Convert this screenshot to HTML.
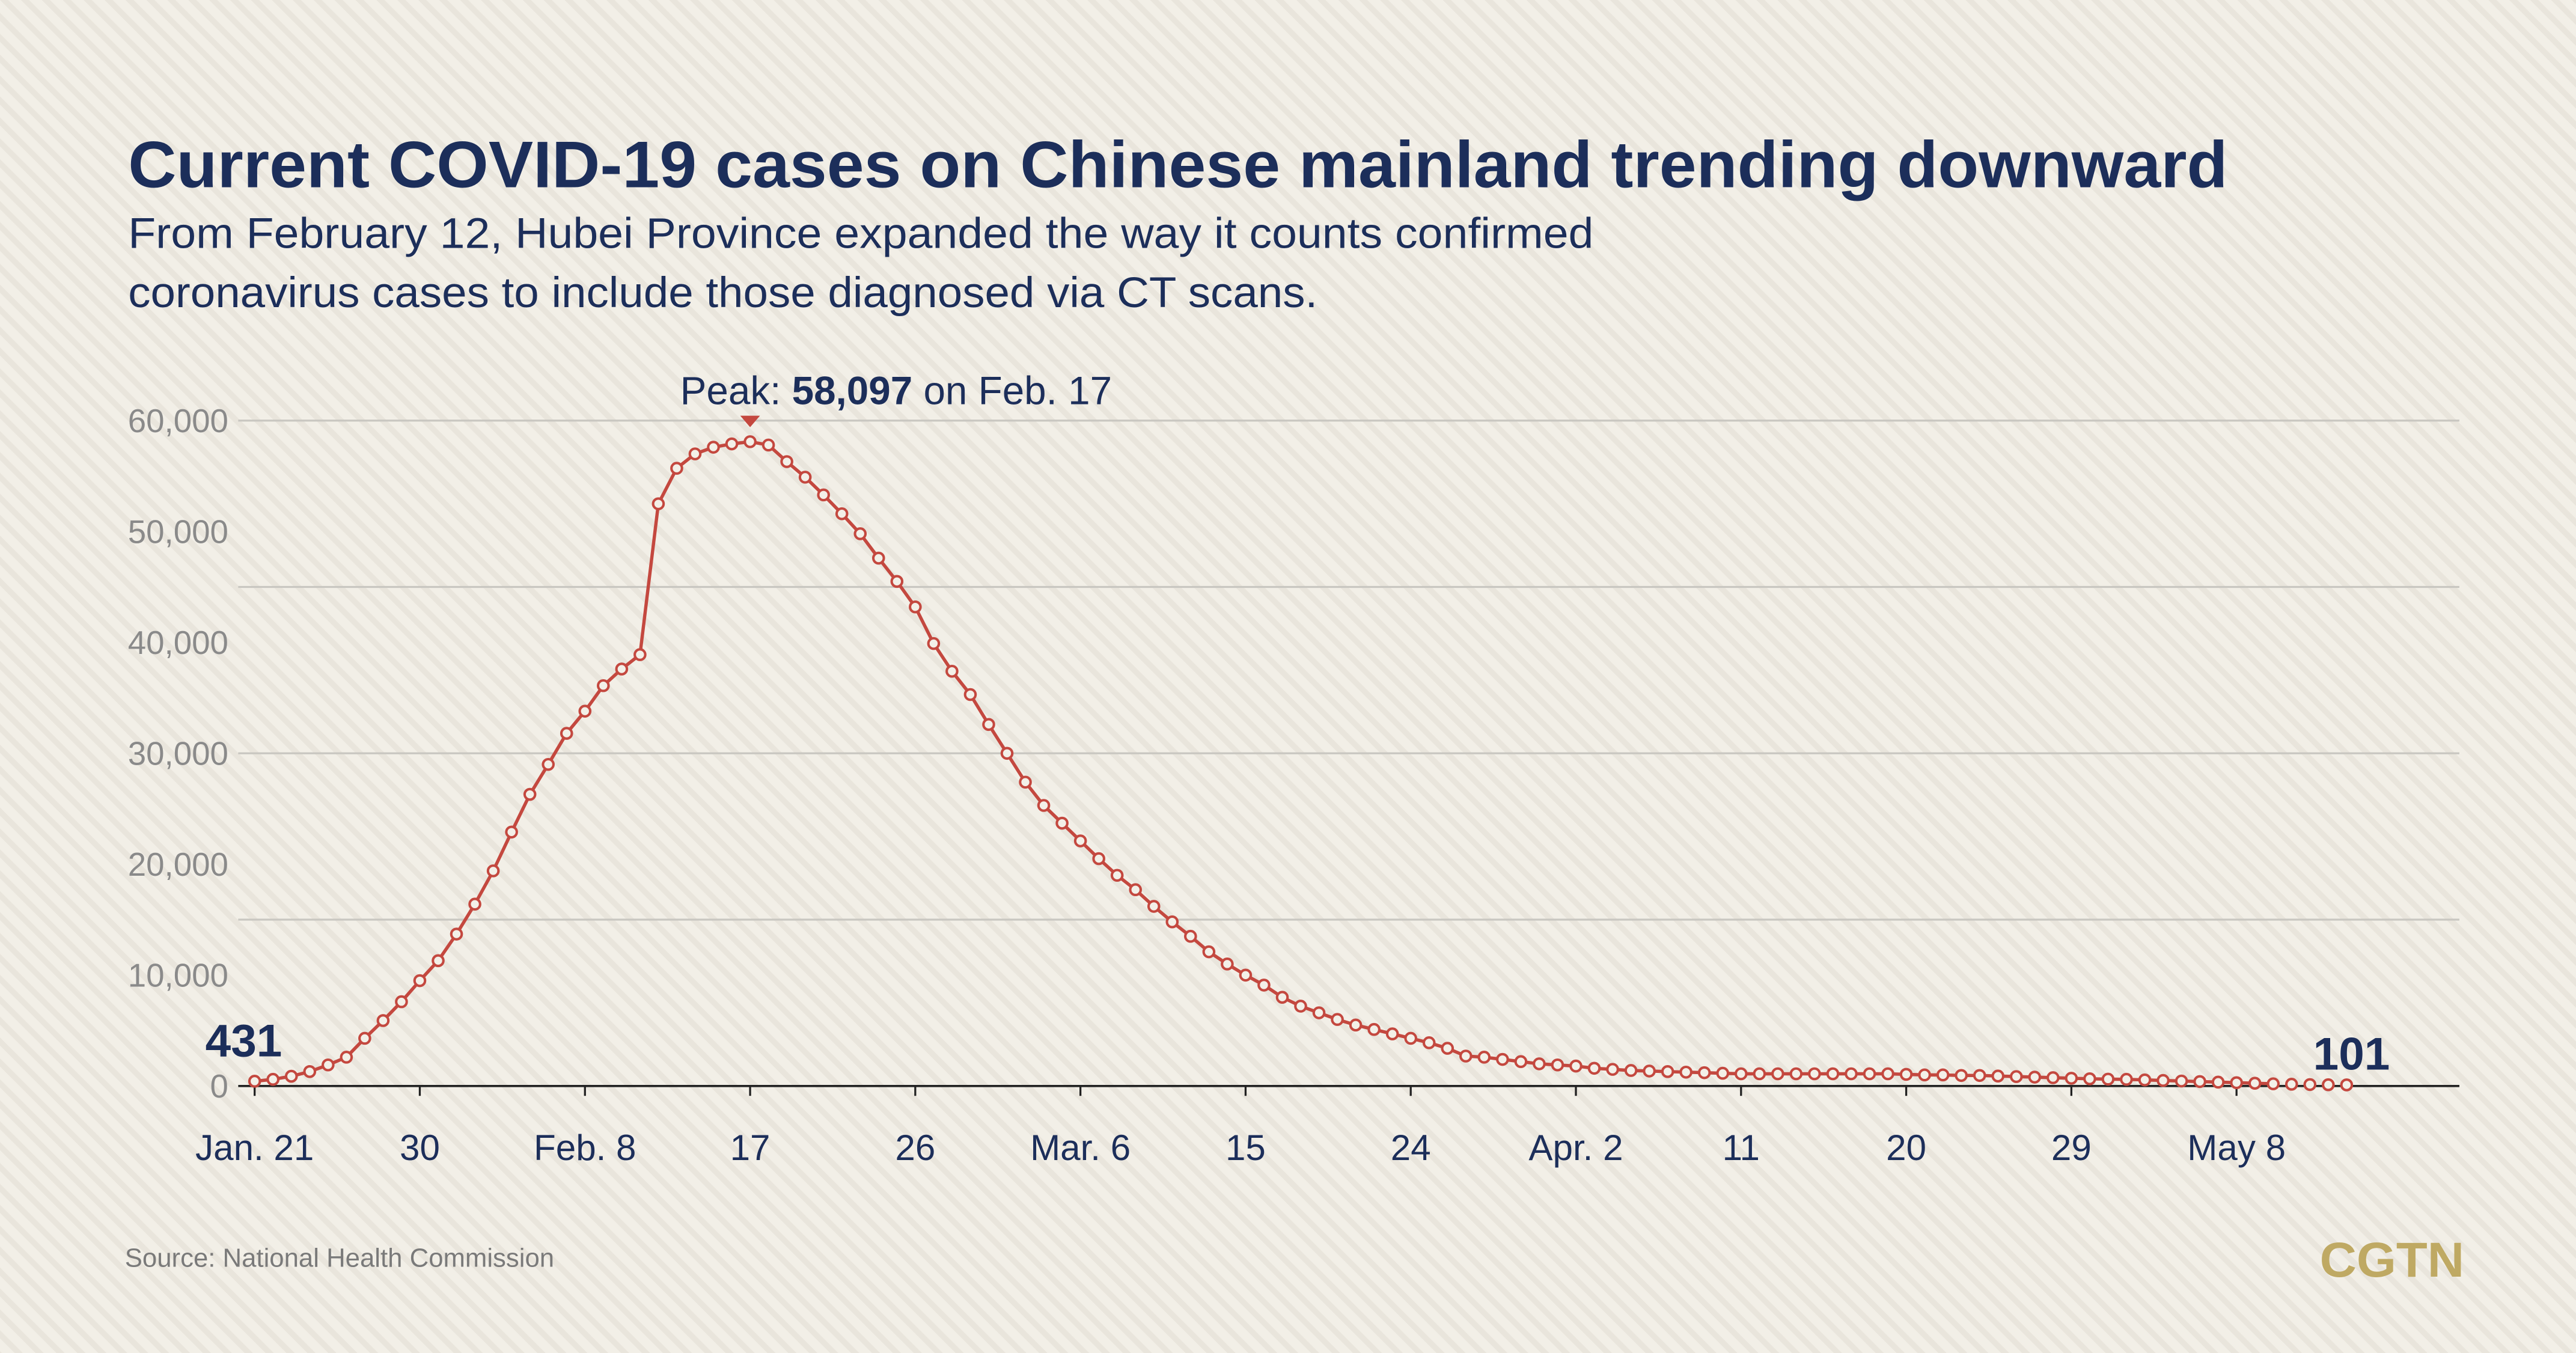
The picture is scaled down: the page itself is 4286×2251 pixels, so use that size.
<!DOCTYPE html>
<html><head><meta charset="utf-8"><style>
html,body{margin:0;padding:0;background:#f2efe7;}
svg{display:block;font-family:"Liberation Sans",sans-serif;}
</style></head><body>
<svg id="chart" width="4286" height="2251" viewBox="0 0 1568 823.5" xmlns="http://www.w3.org/2000/svg">
<defs>
<pattern id="stripes" width="9" height="9" patternUnits="userSpaceOnUse" patternTransform="rotate(-45)">
<rect width="9" height="9" fill="#f2efe7"/><rect width="3.5" height="9" fill="#e9e5dc"/>
</pattern>
</defs>
<rect width="1568" height="824" fill="url(#stripes)"/>
<text x="78" y="114" font-size="40" font-weight="bold" fill="#1c2e5a" textLength="1278" lengthAdjust="spacingAndGlyphs">Current COVID-19 cases on Chinese mainland trending downward</text>
<text x="78" y="151" font-size="26" fill="#1c2e5a" textLength="892" lengthAdjust="spacingAndGlyphs">From February 12, Hubei Province expanded the way it counts confirmed</text>
<text x="78" y="187" font-size="26" fill="#1c2e5a" textLength="724" lengthAdjust="spacingAndGlyphs">coronavirus cases to include those diagnosed via CT scans.</text>
<g id="grid"></g>
<g id="yaxis"></g>
<g id="xaxis"></g>
<g id="series"></g>
<g id="annot"></g>
<text x="76" y="771" font-size="16" fill="#7a7a7a">Source: National Health Commission</text>
<text x="1412" y="777" font-size="30" font-weight="bold" fill="#bfa963" textLength="88" lengthAdjust="spacingAndGlyphs">CGTN</text>
</svg>
<script>
const values = [431,600,880,1300,1900,2600,4300,5900,7600,9500,
11300,13700,16400,19400,22900,26300,29000,31800,33800,36100,
37600,38900,52500,55700,57000,57600,57900,58097,57800,56300,
54900,53300,51600,49800,47600,45500,43200,39900,37400,35300,
32600,30000,27400,25300,23700,22100,20500,19000,17700,16200,
14800,13500,12100,11000,10000,9100,8000,7200,6600,6000,
5500,5100,4700,4300,3900,3400,2700,2600,2400,2200,
2000,1900,1800,1600,1500,1400,1350,1300,1250,1200,
1150,1100,1100,1100,1100,1100,1100,1100,1100,1100,
1050,1000,1000,950,950,900,850,800,750,700,
650,620,600,550,500,450,400,350,300,250,
200,160,130,115,101];
const xTickLabels = ["Jan. 21","30","Feb. 8","17","26","Mar. 6","15","24","Apr. 2","11","20","29","May 8"];
const xTickIndex = [0,9,18,27,36,45,54,63,72,81,90,99,108];
const yTickValues = [0,10000,20000,30000,40000,50000,60000];
const yTickLabels = ["0","10,000","20,000","30,000","40,000","50,000","60,000"];
const gridValues = [15000,30000,45000,60000];
const peakIndex = 27;
const peakLabel = "58,097";
const peakDate = "Feb. 17";
const firstLabel = "431";
const lastLabel = "101";

const NS="http://www.w3.org/2000/svg";
const X0=155, DX=11.17, Y0=661, YH=405, YMAX=60000, XL=145, XR=1497;
const xs=i=>X0+i*DX;
const ys=v=>Y0-v/YMAX*YH;
function mk(tag,attrs,parent,text){const e=document.createElementNS(NS,tag);for(const k in attrs)e.setAttribute(k,attrs[k]);if(text!==undefined)e.textContent=text;parent.appendChild(e);return e;}
const grid=document.getElementById('grid'),yax=document.getElementById('yaxis'),xax=document.getElementById('xaxis'),ser=document.getElementById('series'),ann=document.getElementById('annot');
gridValues.forEach(v=>{const l=mk('line',{x1:XL,x2:XR,y1:ys(v),y2:ys(v),stroke:'#c9c7c1','stroke-width':1.2},grid);

});
yTickValues.forEach((v,i)=>{const t=mk('text',{x:139,y:ys(v)+7,'text-anchor':'end','font-size':20,fill:'#8a8a8a'},yax,yTickLabels[i]);

});
const ax=mk('line',{x1:XL,x2:XR,y1:Y0,y2:Y0,stroke:'#222','stroke-width':1.3},xax);


xTickIndex.forEach((idx,i)=>{const x=xs(idx);
const tk=mk('line',{x1:x,x2:x,y1:Y0,y2:Y0+6,stroke:'#222','stroke-width':1.2},xax);


const t=mk('text',{x:x,y:706,'text-anchor':'middle','font-size':22,fill:'#1c2e5a'},xax,xTickLabels[i]);

});
const connected=values.slice(0,111);
const p=mk('polyline',{points:connected.map((v,i)=>xs(i)+','+ys(v)).join(' '),fill:'none',stroke:'#c4483f','stroke-width':2,'stroke-linejoin':'round'},ser);


values.forEach((v,i)=>{const c=mk('circle',{cx:xs(i),cy:ys(v),r:3.2,fill:'#f3f0e8',stroke:'#c4483f','stroke-width':1.5},ser);

});
const px=xs(peakIndex);
const tri=mk('polygon',{points:`${px-6},253 ${px+6},253 ${px},260`,fill:'#c4483f'},ann);


const pt=mk('text',{x:414,y:246,'font-size':24,fill:'#1c2e5a'},ann);


mk('tspan',{},pt,'Peak: ');
mk('tspan',{'font-weight':'bold'},pt,peakLabel);
mk('tspan',{},pt,' on '+peakDate);
const fl=mk('text',{x:125,y:643,'font-size':28,'font-weight':'bold',fill:'#1c2e5a'},ann,firstLabel);


const ll=mk('text',{x:1408,y:651,'font-size':28,'font-weight':'bold',fill:'#1c2e5a'},ann,lastLabel);


</script>
</body></html>
